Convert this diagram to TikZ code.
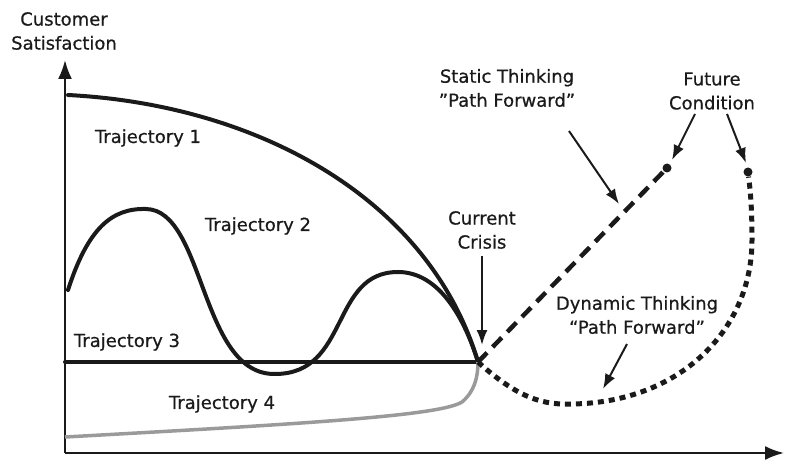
\documentclass[tikz,border=0pt]{standalone}
\usepackage{fontspec}
\setmainfont{DejaVu Sans}[FakeBold=0.6]
\usepackage{xcolor}
\usetikzlibrary{arrows.meta,positioning,calc}
\definecolor{ink}{HTML}{1A1A1A}
\definecolor{greyline}{HTML}{9A9A9A}

\begin{document}
\begin{tikzpicture}[x=1pt, y=-1pt,
  lbl/.style={font=\fontsize{18}{24}\selectfont, text=ink, align=center, inner sep=1pt},
  curve/.style={ink, line width=4pt, line cap=round},
  axis/.style={-{Latex[length=19pt, width=14pt]}, ink, line width=2.2pt},
  arr/.style={-{Latex[length=15pt, width=11pt]}, ink, line width=2pt},
  dashline/.style={ink, line width=4.5pt, dash pattern=on 13pt off 8pt},
  dotline/.style={ink, line width=5pt, dash pattern=on 6pt off 5pt},
  enddot/.style={circle, fill=ink, inner sep=0pt, minimum size=9pt}
]
\useasboundingbox (0,0) rectangle (785,465);

% axes
\coordinate (origin) at (65,453);
\coordinate (ytop) at (65,60);
\coordinate (xend) at (784,453);
\draw[axis] (origin) -- (ytop);
\draw[axis] (origin) -- (xend);
\node[lbl] (ylabel) at (64,31) {Customer\\Satisfaction};

% the crisis point
\coordinate (crisis) at (478,362);

% trajectories
\draw[curve] (68,95) .. controls (260,105) and (430,200) .. (crisis);
\draw[curve] (68,290) .. controls (88,228) and (112,208) .. (146,209)
  .. controls (205,210) and (200,375) .. (275,374)
  .. controls (350,374) and (330,272) .. (398,272)
  .. controls (440,272) and (465,320) .. (crisis);
\draw[curve] (65,362) -- (crisis);
\draw[greyline, line width=3.5pt] (65,437) .. controls (300,424) and (440,416) .. (462,402)
  .. controls (474,392) and (478,378) .. (crisis);

\node[lbl] (t1) at (148,138) {Trajectory 1};
\node[lbl] (t2) at (258,226) {Trajectory 2};
\node[lbl] (t3) at (127,342) {Trajectory 3};
\node[lbl] (t4) at (222,404) {Trajectory 4};

% paths forward
\node[enddot] (statend) at (667,168) {};
\node[enddot] (dynend) at (748,172) {};
\draw[dashline] (crisis) -- (statend);
\draw[dotline] (crisis) .. controls (520,400) and (545,405) .. (573,404)
  .. controls (680,402) and (752,330) .. (752,240)
  .. controls (752,205) and (750,188) .. (dynend);

% labels and pointers
\node[lbl] (crisislbl) at (482,230) {Current\\Crisis};
\coordinate (crisistip) at (482,345);
\draw[arr, shorten <=6pt] (crisislbl.south) -- (crisistip);

\node[lbl] (statlbl) at (507,88) {Static Thinking\\"Path Forward"};
\coordinate (statfrom) at (569,131);
\coordinate (statto) at (619,204);
\draw[arr] (statfrom) -- (statto);

\node[lbl] (futlbl) at (712,91) {Future\\Condition};
\coordinate (futfromA) at (695,114);
\coordinate (futtoA) at (672,160);
\coordinate (futfromB) at (727,114);
\coordinate (futtoB) at (746,163);
\draw[arr] (futfromA) -- (futtoA);
\draw[arr] (futfromB) -- (futtoB);

\node[lbl] (dynlbl) at (637,315) {Dynamic Thinking\\“Path Forward”};
\coordinate (dynfrom) at (627,344);
\coordinate (dynto) at (603,389);
\draw[arr] (dynfrom) -- (dynto);
\end{tikzpicture}
\end{document}
